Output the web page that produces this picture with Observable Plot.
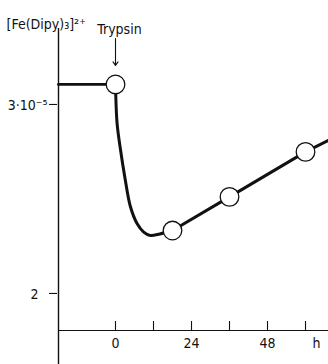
<!DOCTYPE html>
<html><head><meta charset="utf-8">
<script src="https://cdn.jsdelivr.net/npm/d3@7"></script>
<script src="https://cdn.jsdelivr.net/npm/@observablehq/plot@0.6"></script>
<style>
body{margin:0;background:#fff}
</style></head><body><div id="chart"></div>
<script>
// time in hours, concentration in units of 10^-5
const xDomain = [-18, 67.26];
const yDomain = [1.804, 3.402];

const baselineX = [-18, 0];
const baselineY = [3.106, 3.106];

const dropX = [0, 0.5, 1.5, 3, 4.7, 6.8, 8.9, 11, 14, 18];
const dropY = [3.106, 2.90, 2.77, 2.61, 2.46, 2.37, 2.325, 2.307, 2.315, 2.333];

const riseX = [18, 36, 60, 67.26];
const riseY = [2.333, 2.511, 2.749, 2.81];

const pointX = [0, 18, 36, 60];
const pointY = [3.106, 2.333, 2.511, 2.749];

const xTicks = [0, 12, 24, 36, 48, 60];
const xLabelPos = [0, 24, 48, 63.5];
const xLabels = ["0", "24", "48", "h"];

const yTicks = [2, 3];
const yTickLabels = ["2", "3·10⁻⁵"];

const yTitle = "[Fe(Dipy)₃]²⁺";
const annotation = "Trypsin";

const font = "'Liberation Sans Narrow', 'DejaVu Sans Condensed', 'Roboto', sans-serif";
const ink = "#111";

const chart = Plot.plot({
  width: 328, height: 364,
  marginLeft: 58, marginRight: 0, marginTop: 28, marginBottom: 34,
  x: {domain: xDomain, axis: null},
  y: {domain: yDomain, axis: null},
  style: {fontFamily: font, fontSize: "14px", background: "white", color: ink},
  marks: [
    Plot.ruleY([yDomain[0]], {stroke: ink, strokeWidth: 1.2}),
    Plot.ruleX([xDomain[0]], {stroke: ink, strokeWidth: 1.4, insetBottom: -34}),
    Plot.tickX(xTicks, {x: d => d, stroke: ink, strokeWidth: 1.1, insetTop: 293}),
    Plot.text(xLabels, {x: (d, i) => xLabelPos[i], text: d => d, frameAnchor: "bottom", dy: 17, fill: ink}),
    Plot.tickY(yTicks, {y: d => d, stroke: ink, strokeWidth: 1.1, insetRight: 270 - 8, dx: -9}),
    Plot.text([yTicks[1]], {y: d => d, text: () => yTickLabels[1], frameAnchor: "left", textAnchor: "end", dx: -11, dy: 1, fill: ink}),
    Plot.text([yTicks[0]], {y: d => d, text: () => yTickLabels[0], frameAnchor: "left", textAnchor: "end", dx: -20, dy: 1, fill: ink}),
    Plot.text([yTitle], {text: d => d, frameAnchor: "top-left", textAnchor: "start", dx: -52, dy: -9, fill: ink}),
    Plot.text([annotation], {x: pointX[0], text: d => d, frameAnchor: "top", dx: 4, dy: -4, fill: ink}),
    Plot.arrow([0], {x1: pointX[0], x2: pointX[0], y1: yDomain[1], y2: pointY[0], insetStart: 10, insetEnd: 19, stroke: ink, strokeWidth: 1.1, headLength: 6, headAngle: 70}),
    Plot.line(baselineX.map((x, i) => ({x, y: baselineY[i]})), {x: "x", y: "y", stroke: ink, strokeWidth: 2.8}),
    Plot.line(dropX.map((x, i) => ({x, y: dropY[i]})), {x: "x", y: "y", stroke: ink, strokeWidth: 3, curve: "catmull-rom"}),
    Plot.line(riseX.map((x, i) => ({x, y: riseY[i]})), {x: "x", y: "y", stroke: ink, strokeWidth: 3}),
    Plot.dot(pointX.map((x, i) => ({x, y: pointY[i]})), {x: "x", y: "y", r: 9.3, fill: "white", stroke: ink, strokeWidth: 1.3})
  ]
});
document.getElementById("chart").append(chart);
</script>
</body></html>
